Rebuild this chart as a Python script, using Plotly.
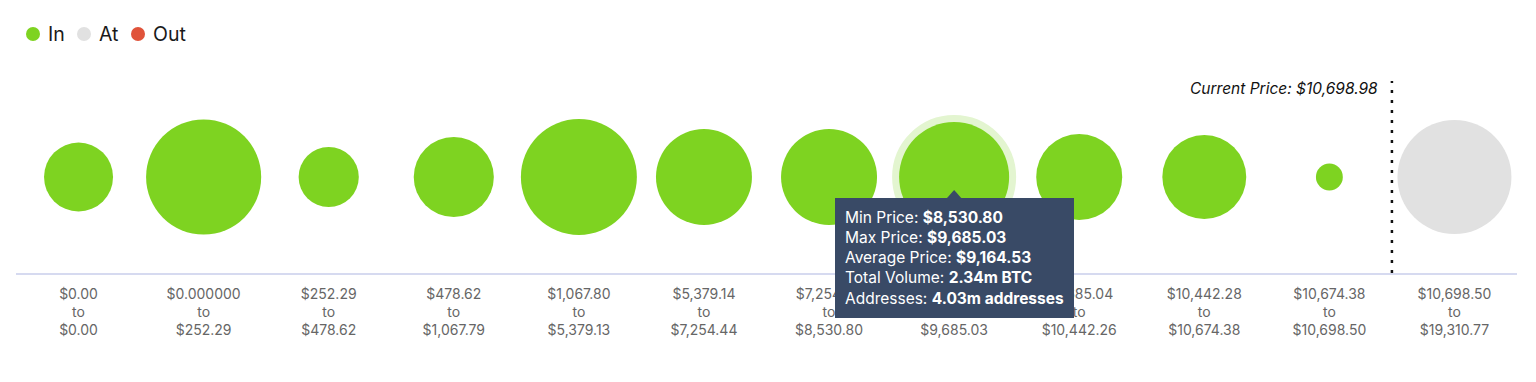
import plotly.graph_objects as go

# ---- data ----
range_low = ["$0.00", "$0.000000", "$252.29", "$478.62", "$1,067.80", "$5,379.14",
             "$7,254.45", "$8,530.80", "$9,685.04", "$10,442.28", "$10,674.38", "$10,698.50"]
range_high = ["$0.00", "$252.29", "$478.62", "$1,067.79", "$5,379.13", "$7,254.44",
              "$8,530.80", "$9,685.03", "$10,442.26", "$10,674.38", "$10,698.50", "$19,310.77"]
volume_m_btc = [0.92, 2.56, 0.70, 1.24, 2.60, 1.78, 1.78, 2.34, 1.43, 1.36, 0.14, 2.51]
status = ["In", "In", "In", "In", "In", "In", "In", "In", "In", "In", "In", "At"]
legend_names = ["In", "At", "Out"]
current_price = "$10,698.98"
hover_index = 7
hover_lines = [("Min Price", "$8,530.80"), ("Max Price", "$9,685.03"),
               ("Average Price", "$9,164.53"), ("Total Volume", "2.34m BTC"),
               ("Addresses", "4.03m addresses")]

# ---- styles / layout ----
colors = {"In": "#7ed321", "At": "#e1e1e1", "Out": "#e0533a"}
halo = "#e3f5d0"
tip_bg = "#394a66"
FONT = "Inter, Roboto, sans-serif"
W, H = 1528, 374            # page body adds an 8px margin
L, R, T, B = 8, 19, 73, 109
PW, PH = W - L - R, H - T - B
max_px = 116
sizeref = 2 * max(volume_m_btc) / max_px ** 2


def px_x(fx):
    return (fx - L) / PW


def px_y(fy):
    return (H - B - fy) / PH


idx = list(range(len(volume_m_btc)))
ticktext = [f"{a}<br>to<br>{b}" for a, b in zip(range_low, range_high)]

fig = go.Figure()

# hover halo behind
fig.add_trace(go.Scatter(
    x=[hover_index], y=[0], mode="markers", showlegend=False, hoverinfo="skip",
    marker=dict(size=[volume_m_btc[hover_index]], sizemode="area", sizeref=sizeref,
                color=halo, opacity=1, line=dict(color=halo, width=14))))

for st in legend_names:
    xs = [i for i in idx if status[i] == st]
    vs = [volume_m_btc[i] for i in xs]
    if xs:
        fig.add_trace(go.Scatter(
            x=xs, y=[0] * len(xs), mode="markers", showlegend=False, hoverinfo="skip",
            name=st,
            marker=dict(size=vs, sizemode="area", sizeref=sizeref, color=colors[st],
                        opacity=1, line=dict(width=0))))

# manual legend (dots + labels)
legend_dot_x = [25, 76, 130]
legend_text_x = [38, 89, 143]
legend_y = 26
for name, dx, tx in zip(legend_names, legend_dot_x, legend_text_x):
    fig.add_shape(type="circle", xref="paper", yref="paper", xsizemode="pixel",
                  ysizemode="pixel", xanchor=px_x(dx), yanchor=px_y(legend_y),
                  x0=-7, x1=7, y0=-7, y1=7, fillcolor=colors[name],
                  line=dict(width=0), layer="above")
    fig.add_annotation(x=px_x(tx), y=px_y(legend_y), xref="paper", yref="paper",
                       xanchor="left", yanchor="middle", showarrow=False, text=name,
                       font=dict(family=FONT, size=19.5, color="#1a1a1a"))

# current price line
fig.add_shape(type="line", xref="x", yref="paper", x0=10.5, x1=10.5, y0=0, y1=1,
              line=dict(color="#111", width=2.5, dash="3px,7px"), layer="above")
fig.add_annotation(x=10.5, y=px_y(80), xref="x", yref="paper", xanchor="right",
                   yanchor="middle", xshift=-12, showarrow=False,
                   text=f"<i>Current Price: {current_price}</i>",
                   font=dict(family=FONT, size=15.5, color="#111"))

# tooltip
tip_text = "<br>".join(f"{k}: <b>{v}</b>" for k, v in hover_lines)
fig.add_annotation(x=hover_index, y=0, xref="x", yref="y", xanchor="center", yanchor="top",
                   yshift=-21, showarrow=False, align="left", text=tip_text,
                   bgcolor=tip_bg, borderpad=10, borderwidth=0,
                   font=dict(family=FONT, size=15.5, color="white"))
fig.add_shape(type="path", xref="x", yref="y", xsizemode="pixel", ysizemode="pixel",
              xanchor=hover_index, yanchor=0,
              path="M -8 -22 L 0 -13 L 8 -22 Z", fillcolor=tip_bg,
              line=dict(width=0), layer="above")

fig.update_layout(
    width=W, height=H,
    margin=dict(l=L, r=R, t=T, b=B),
    paper_bgcolor="white", plot_bgcolor="white",
    font=dict(family=FONT, color="#666"),
    showlegend=False,
    xaxis=dict(range=[-0.5, 11.5], tickmode="array", tickvals=idx, ticktext=ticktext,
               showgrid=False, zeroline=False, showline=True, linecolor="#d6daf0",
               linewidth=2, ticks="", ticklabelstandoff=7,
               tickfont=dict(family=FONT, size=14, color="#666"),
               fixedrange=True),
    yaxis=dict(range=[-1, 1], visible=False, fixedrange=True),
)

fig.write_html("out.html")
